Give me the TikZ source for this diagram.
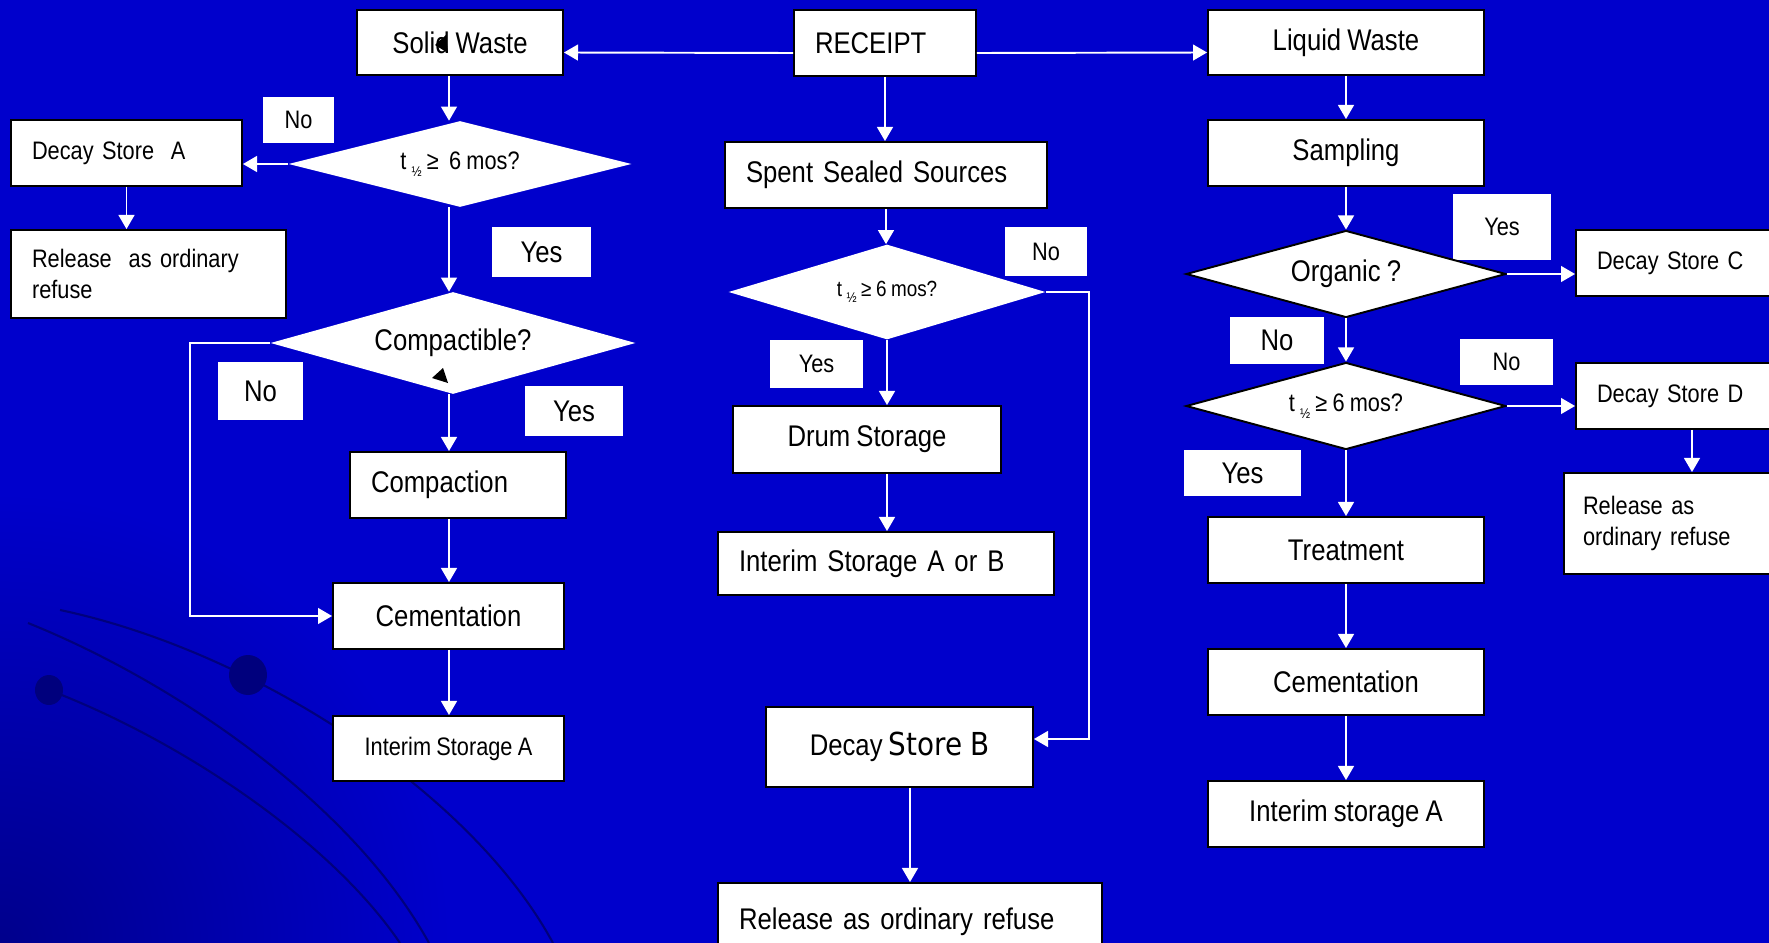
\documentclass[tikz,border=0pt]{standalone}
\usepackage{fontspec}
\setmainfont{Liberation Sans}[FakeStretch=0.86, WordSpace=0.86]
\newfontfamily\storefont{DejaVu Sans}[FakeStretch=0.88, WordSpace=0.88]
\usepackage{tikz}
\usetikzlibrary{shapes.geometric, arrows.meta, positioning, calc}

\definecolor{slideblue}{RGB}{0,0,204}
\definecolor{slidedark}{RGB}{0,0,140}
\definecolor{swoosh}{RGB}{0,0,125}

\newcommand{\halfsub}{\raisebox{-0.5ex}{\fontsize{8}{8}\selectfont ½}}

\begin{document}
\begin{tikzpicture}[
    x=0.02cm, y=-0.02cm,
    box/.style={draw=black, fill=white, line width=1.1pt, rectangle, inner sep=0pt, align=center, font=\fontsize{17}{21}\selectfont},
    lbox/.style={box, align=left, inner xsep=0.42cm},
    smallfont/.style={font=\fontsize{14.4}{18}\selectfont},
    test/.style={diamond, aspect=3.5, fill=white, inner sep=0pt, font=\fontsize{17}{21}\selectfont},
    tag/.style={fill=white, inner sep=0pt, font=\fontsize{17}{21}\selectfont},
    flow/.style={draw=white, line width=1.1pt, -{Triangle[width=9pt,length=8pt]}}
]
    \useasboundingbox (0,0) rectangle (1769,943);
    \clip (0,0) rectangle (1769,943);

    % slide background
    \fill[slideblue] (0,0) rectangle (1769,943);
    \shade[inner color=slidedark, outer color=slideblue] (0,943) circle (9cm);
    \draw[swoosh, line width=1.2pt] (28,623) .. controls (170,680) and (350,800) .. (429,943);
    \draw[swoosh, line width=1.2pt] (49,690) .. controls (180,740) and (330,840) .. (400,943);
    \draw[swoosh, line width=1.2pt] (60,610) .. controls (250,650) and (470,790) .. (553,943);
    \fill[swoosh] (49,690) ellipse (0.28cm and 0.3cm);
    \fill[swoosh] (248,675) ellipse (0.38cm and 0.4cm);

    % yes / no tags
    \node[tag, smallfont, minimum width=1.42cm, minimum height=0.92cm] (noA)  at (298.5,120) {No};
    \node[tag, minimum width=1.98cm, minimum height=1cm]               (yesA) at (541.5,252) {Yes};
    \node[tag, minimum width=1.7cm, minimum height=1.16cm]             (noB)  at (260.5,391) {No};
    \node[tag, minimum width=1.96cm, minimum height=1cm]               (yesB) at (574,411)   {Yes};
    \node[tag, smallfont, minimum width=1.64cm, minimum height=0.98cm] (noC)  at (1046,251.5) {No};
    \node[tag, smallfont, minimum width=1.86cm, minimum height=0.96cm] (yesC) at (816.5,364) {Yes};
    \node[tag, smallfont, minimum width=1.96cm, minimum height=1.32cm] (yesD) at (1502,227)  {Yes};
    \node[tag, minimum width=1.88cm, minimum height=0.94cm]            (noE)  at (1277,340.5) {No};
    \node[tag, smallfont, minimum width=1.86cm, minimum height=0.92cm] (noF)  at (1506.5,362) {No};
    \node[tag, minimum width=2.34cm, minimum height=0.92cm]            (yesF) at (1242.5,473) {Yes};

    % solid waste
    \node[box, minimum width=4.12cm, minimum height=1.3cm]                     (sw)   at (460,42.5)  {Solid Waste};
    \node[test, smallfont, minimum width=6.86cm, minimum height=1.72cm]        (d1)   at (460,164)   {t \halfsub\ ≥\ \ 6 mos?};
    \node[lbox, smallfont, text width=3.78cm, minimum height=1.32cm]           (dA)   at (126.5,153) {Decay Store\ \ A};
    \node[lbox, smallfont, text width=4.66cm, minimum height=1.76cm]           (relA) at (148.5,274) {Release\ \ as ordinary\\refuse};
    \node[test, minimum width=7.3cm, minimum height=2.04cm]                    (d2)   at (453,343)   {Compactible?};
    \node[lbox, text width=3.48cm, minimum height=1.32cm]                      (cp)   at (458,485)   {Compaction};
    \node[box, minimum width=4.62cm, minimum height=1.32cm]                    (cm)   at (448.5,616) {Cementation};
    \node[box, smallfont, minimum width=4.62cm, minimum height=1.3cm]          (isA)  at (448.5,748.5) {Interim Storage A};

    % sealed sources
    \node[lbox, text width=2.8cm, minimum height=1.32cm]                       (rc)   at (885,43)    {RECEIPT};
    \node[lbox, text width=5.6cm, minimum height=1.32cm]                       (ss)   at (886,175)   {Spent Sealed Sources};
    \node[test, font=\fontsize{12.5}{15}\selectfont, minimum width=6.34cm, minimum height=1.9cm] (d3) at (887,292) {t \halfsub\ ≥ 6 mos?};
    \node[box, minimum width=5.36cm, minimum height=1.34cm]                    (dr)   at (867,439.5) {Drum Storage};
    \node[lbox, text width=5.88cm, minimum height=1.26cm]                      (ia)   at (886,563.5) {Interim Storage A or B};
    \node[box, minimum width=5.34cm, minimum height=1.6cm]                     (db)   at (899.5,747) {Decay {\storefont\fontsize{18}{21}\selectfont Store B}};
    \node[lbox, text width=6.84cm, minimum height=1.54cm]                      (rel)  at (910,921.5) {Release as ordinary refuse};

    % liquid waste
    \node[box, minimum width=5.52cm, minimum height=1.3cm]                     (lw)   at (1346,42.5) {Liquid Waste};
    \node[box, minimum width=5.52cm, minimum height=1.32cm]                    (sm)   at (1346,153)  {Sampling};
    \node[test, draw=black, line width=1.1pt, minimum width=6.4cm, minimum height=1.74cm] (d4) at (1346,274) {Organic ?};
    \node[test, draw=black, line width=1.1pt, smallfont, minimum width=6.4cm, minimum height=1.74cm] (d5) at (1346,406) {t \halfsub\ ≥ 6 mos?};
    \node[lbox, smallfont, text width=3.8cm, minimum height=1.32cm]            (dC)   at (1692,263)  {Decay Store C};
    \node[lbox, smallfont, text width=3.8cm, minimum height=1.32cm]            (dD)   at (1692,396)  {Decay Store D};
    \node[lbox, smallfont, inner xsep=0.38cm, text width=4.36cm, minimum height=2.02cm] (relD) at (1692,523.5) {Release as\\ordinary refuse};
    \node[box, minimum width=5.52cm, minimum height=1.32cm]                    (tr)   at (1346,550)  {Treatment};
    \node[box, minimum width=5.52cm, minimum height=1.32cm]                    (cm2)  at (1346,682)  {Cementation};
    \node[box, minimum width=5.52cm, minimum height=1.32cm]                    (isR)  at (1346,814)  {Interim storage A};

    \coordinate (colL)  at (449,0);
    \coordinate (loopL) at (190,343);

    \draw[flow] ([yshift=-0.2cm]rc.west) -- ([yshift=-0.2cm]sw.east);
    \draw[flow] ([yshift=-0.2cm]rc.east) -- ([yshift=-0.2cm]lw.west);

    \draw[flow] (sw.south -| colL) -- (d1.north -| colL);
    \draw[flow] (d1.west) -- (d1.west -| dA.east);
    \draw[flow] (dA.south) -- (dA.south |- relA.north);
    \draw[flow] (d1.south -| colL) -- (d2.north -| colL);
    \draw[flow] (d2.west) -- (loopL) |- (cm.west);
    \draw[flow] (d2.south -| colL) -- (cp.north -| colL);
    \draw[flow] (cp.south -| colL) -- (cm.north -| colL);
    \draw[flow] (cm.south -| colL) -- (isA.north -| colL);

    \draw[flow] (rc.south) -- (rc.south |- ss.north);
    \draw[flow] (ss.south) -- (ss.south |- d3.north);
    \draw[flow] (d3.south) -- (d3.south |- dr.north);
    \draw[flow] (d3.south |- dr.south) -- (d3.south |- ia.north);
    \draw[flow] (d3.east) -- ++(43,0) |- ([yshift=0.16cm]db.east);
    \draw[flow] (rel.north |- db.south) -- (rel.north);

    \draw[flow] (lw) -- (sm);
    \draw[flow] (sm) -- (d4);
    \draw[flow] (d4) -- (d5);
    \draw[flow] (d5) -- (tr);
    \draw[flow] (tr) -- (cm2);
    \draw[flow] (cm2) -- (isR);
    \draw[flow] (d4.east) -- (d4.east -| dC.west);
    \draw[flow] (d5.east) -- (d5.east -| dD.west);
    \draw[flow] (dD) -- (relD);

    % stray arrow heads
    \fill[black] (435,45) -- (446,35) -- (448,53) -- cycle;
    \fill[black] (432,378) -- (443,368) -- (448,383) -- cycle;
\end{tikzpicture}
\end{document}
